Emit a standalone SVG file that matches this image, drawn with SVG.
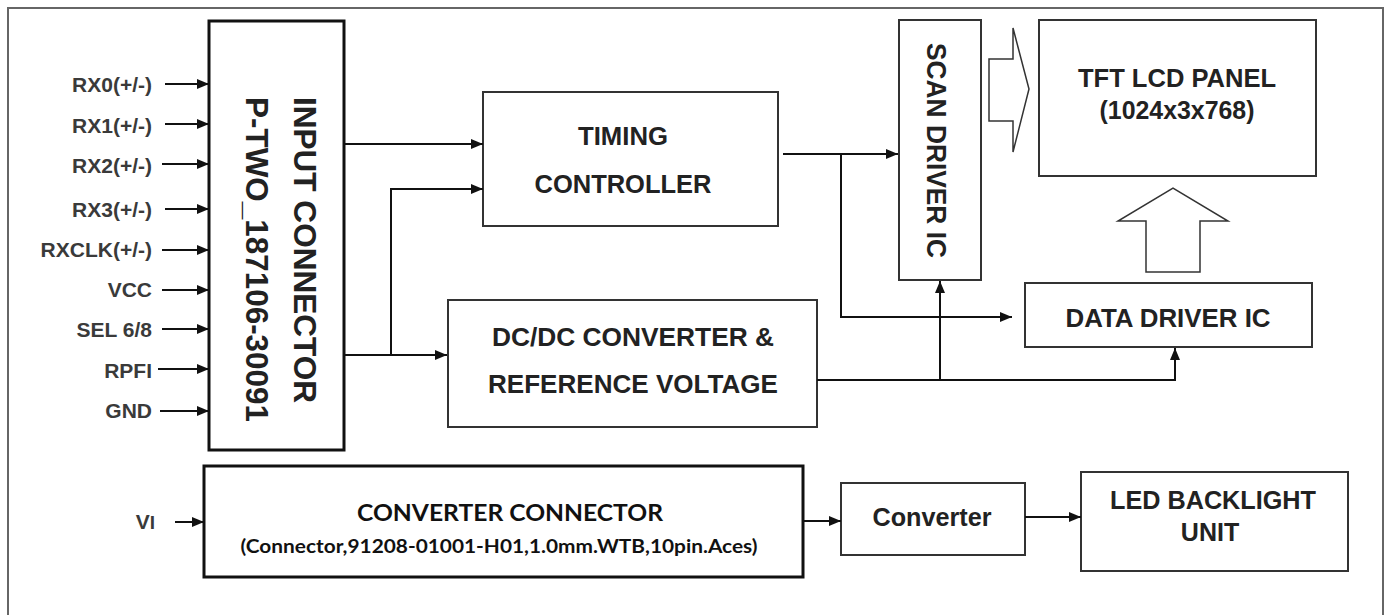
<svg xmlns="http://www.w3.org/2000/svg" width="1392" height="615" viewBox="0 0 1392 615">
<defs>
<marker id="ah" markerUnits="userSpaceOnUse" markerWidth="12" markerHeight="10" refX="12" refY="5" orient="auto">
<path d="M0,0 L12,5 L0,10 z" fill="#111"/>
</marker>
<style>
.box{fill:#fff;stroke:#333;stroke-width:2}
.bbox{fill:#fff;stroke:#111;stroke-width:3}
.t{font-family:"Liberation Sans",Arial,sans-serif;font-weight:bold;fill:#222}
.lbl{font-family:"Liberation Sans",Arial,sans-serif;font-weight:bold;font-size:21px;fill:#3a3a3a;text-anchor:end}
.c{font-family:Lato,"Open Sans",sans-serif;font-weight:bold;fill:#111;text-anchor:middle}
.w{fill:none;stroke:#111;stroke-width:2}
.a{fill:none;stroke:#111;stroke-width:2;marker-end:url(#ah)}
.hollow{fill:#fff;stroke:#333;stroke-width:1.5}
</style>
</defs>
<rect width="1392" height="615" fill="#fff"/>
<rect x="8" y="8" width="1375" height="620" fill="none" stroke="#666" stroke-width="2"/>

<g id="input-labels">
<text class="lbl" x="152" y="92">RX0(+/-)</text>
<text class="lbl" x="152" y="133">RX1(+/-)</text>
<text class="lbl" x="152" y="173">RX2(+/-)</text>
<text class="lbl" x="152" y="217">RX3(+/-)</text>
<text class="lbl" x="152" y="257">RXCLK(+/-)</text>
<text class="lbl" x="152" y="297">VCC</text>
<text class="lbl" x="152" y="337">SEL 6/8</text>
<text class="lbl" x="152" y="378">RPFI</text>
<text class="lbl" x="152" y="418">GND</text>
</g>

<g id="input-connector">
<rect class="bbox" x="209" y="21" width="135" height="429"/>
<text class="t" font-size="31" text-anchor="middle" textLength="306" lengthAdjust="spacingAndGlyphs" transform="translate(305,250) rotate(90)" y="11">INPUT CONNECTOR</text>
<text class="t" font-size="31" text-anchor="middle" textLength="325" lengthAdjust="spacingAndGlyphs" transform="translate(257,259.5) rotate(90)" y="11">P-TWO_187106-30091</text>
</g>

<g id="timing-controller">
<rect class="box" x="483" y="92" width="295" height="134"/>
<text class="t" font-size="26" x="623" y="145" text-anchor="middle" textLength="90" lengthAdjust="spacingAndGlyphs">TIMING</text>
<text class="t" font-size="26" x="623" y="193" text-anchor="middle" textLength="177" lengthAdjust="spacingAndGlyphs">CONTROLLER</text>
</g>

<g id="dcdc-converter">
<rect class="box" x="448" y="300" width="369" height="127"/>
<text class="t" font-size="26" x="633" y="346" text-anchor="middle" textLength="282" lengthAdjust="spacingAndGlyphs">DC/DC CONVERTER &amp;</text>
<text class="t" font-size="26" x="633" y="393" text-anchor="middle" textLength="290" lengthAdjust="spacingAndGlyphs">REFERENCE VOLTAGE</text>
</g>

<g id="scan-driver">
<rect class="box" x="899" y="20" width="82" height="260"/>
<text class="t" font-size="27" text-anchor="middle" textLength="215" lengthAdjust="spacingAndGlyphs" transform="translate(937,150.5) rotate(90)" y="10">SCAN DRIVER IC</text>
</g>

<g id="tft-panel">
<rect class="box" x="1039" y="20" width="277" height="156"/>
<text class="t" font-size="26" x="1177" y="87" text-anchor="middle" textLength="198" lengthAdjust="spacingAndGlyphs">TFT LCD PANEL</text>
<text class="t" font-size="25" x="1177" y="119" text-anchor="middle" textLength="155" lengthAdjust="spacingAndGlyphs">(1024x3x768)</text>
</g>

<g id="data-driver">
<rect class="box" x="1025" y="283" width="287" height="64"/>
<text class="t" font-size="26" x="1168" y="327" text-anchor="middle" textLength="205" lengthAdjust="spacingAndGlyphs">DATA DRIVER IC</text>
</g>

<g id="converter-connector">
<rect class="bbox" x="204" y="466" width="599" height="111"/>
<text class="c" font-size="23" x="510" y="521" textLength="306" lengthAdjust="spacingAndGlyphs">CONVERTER CONNECTOR</text>
<text class="c" font-size="19" x="499" y="553" textLength="517" lengthAdjust="spacingAndGlyphs">(Connector,91208-01001-H01,1.0mm.WTB,10pin.Aces)</text>
</g>

<g id="vi-label">
<text class="lbl" x="155" y="529" font-size="22">V<tspan font-size="19">I</tspan></text>
</g>

<g id="converter">
<rect class="box" x="841" y="483" width="184" height="72"/>
<text class="t" font-size="25" x="932" y="526" text-anchor="middle" textLength="119" lengthAdjust="spacingAndGlyphs">Converter</text>
</g>

<g id="led-backlight">
<rect class="box" x="1081" y="472" width="267" height="99"/>
<text class="t" font-size="25" x="1213" y="509" text-anchor="middle" textLength="206" lengthAdjust="spacingAndGlyphs">LED BACKLIGHT</text>
<text class="t" font-size="25" x="1210" y="541" text-anchor="middle">UNIT</text>
</g>

<g id="connectors">
<line class="a" x1="165" y1="84" x2="209" y2="84"/>
<line class="a" x1="165" y1="124" x2="209" y2="124"/>
<line class="a" x1="162" y1="164" x2="209" y2="164"/>
<line class="a" x1="165" y1="209" x2="209" y2="209"/>
<line class="a" x1="162" y1="250" x2="209" y2="250"/>
<line class="a" x1="162" y1="290" x2="209" y2="290"/>
<line class="a" x1="162" y1="329" x2="209" y2="329"/>
<line class="a" x1="158" y1="369" x2="209" y2="369"/>
<line class="a" x1="160" y1="411" x2="209" y2="411"/>
<line class="a" x1="344" y1="144" x2="483" y2="144"/>
<line class="a" x1="344" y1="355" x2="447" y2="355"/>
<polyline class="a" points="391,355 391,189 483,189"/>
<line class="a" x1="783" y1="154" x2="898" y2="154"/>
<polyline class="a" points="841,154 841,317 1012,317"/>
<polyline class="a" points="817,380 1175,380 1175,348"/>
<line class="a" x1="940" y1="380" x2="940" y2="281"/>
<line class="a" x1="175" y1="522" x2="204" y2="522"/>
<line class="a" x1="803" y1="521" x2="841" y2="521"/>
<line class="a" x1="1025" y1="517" x2="1081" y2="517"/>
<polygon class="hollow" points="989,59 1013,59 1013,28 1029,89 1013,152 1013,121 989,121"/>
<polygon class="hollow" points="1146,272 1146,221 1118,221 1173,188 1228,221 1200,221 1200,272"/>
</g>
</svg>
